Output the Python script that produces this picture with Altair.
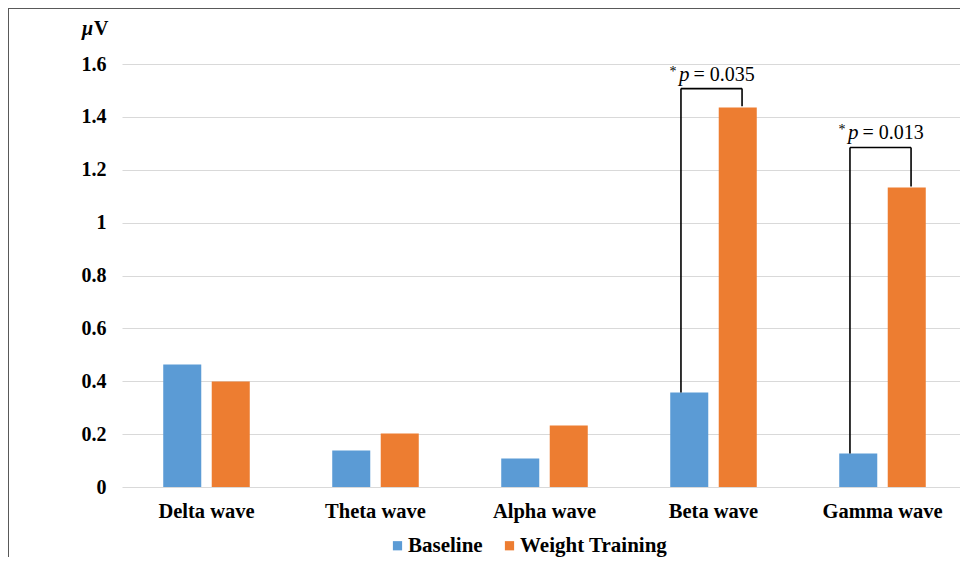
import altair as alt
import pandas as pd

categories = ["Delta wave", "Theta wave", "Alpha wave", "Beta wave", "Gamma wave"]
series = ["Baseline", "Weight Training"]
baseline = [0.463, 0.138, 0.108, 0.357, 0.127]
weight_training = [0.399, 0.202, 0.233, 1.435, 1.133]
y_ticks = [0, 0.2, 0.4, 0.6, 0.8, 1.0, 1.2, 1.4, 1.6]

sig_categories = ["Beta wave", "Gamma wave"]
sig_text = ["= 0.035", "= 0.013"]
bracket_top = [1.507, 1.284]
bracket_left_end = [0.357, 0.127]
bracket_right_end = [1.44, 1.137]
label_y = [1.534, 1.318]

rows = []
for c, b, w in zip(categories, baseline, weight_training):
    rows.append({"category": c, "series": "Baseline", "value": b})
    rows.append({"category": c, "series": "Weight Training", "value": w})
bars_df = pd.DataFrame(rows)

sig_df = pd.DataFrame({
    "category": sig_categories,
    "text": sig_text,
    "top": bracket_top,
    "left_end": bracket_left_end,
    "right_end": bracket_right_end,
    "label_y": label_y,
})

FONT = "Liberation Serif"
W, H = 838, 423
X_RANGE = 845  # category bands continue slightly past the visible frame, as in the original
PAD = {"left": 114, "top": 56, "right": 0, "bottom": 70}

x_scale = alt.Scale(domain=categories, range=[0, X_RANGE], paddingInner=0.488, paddingOuter=0.244)
y_scale = alt.Scale(domain=[0, 1.6], nice=False, zero=True)

bars = alt.Chart(bars_df).mark_bar().encode(
    x=alt.X("category:N", sort=categories, scale=x_scale, title=None,
            axis=alt.Axis(labelAngle=0, labelFont=FONT, labelFontWeight="bold",
                          labelFontSize=20.5, labelColor="#000000", labelPadding=14,
                          domain=False, ticks=False, grid=False)),
    xOffset=alt.XOffset("series:N", sort=series, scale=alt.Scale(domain=series, paddingInner=0.216)),
    y=alt.Y("value:Q", scale=y_scale, title="Amplitudes",
            axis=alt.Axis(values=y_ticks, format="~g", labelFont=FONT, labelFontWeight="bold",
                          labelFontSize=20, labelColor="#000000", labelPadding=16,
                          domain=False, ticks=False, grid=True, gridColor="#d9d9d9", gridWidth=1,
                          titleFont=FONT, titleFontWeight="bold", titleFontSize=23,
                          titleColor="#000000", titleAngle=270, titleX=-93, titleY=206,
                          titleAlign="center", titleBaseline="middle")),
    color=alt.Color("series:N", sort=series,
                    scale=alt.Scale(domain=series, range=["#5B9BD5", "#ED7D31"]),
                    legend=alt.Legend(title=None, orient="none", direction="horizontal",
                                      legendX=265, legendY=471, symbolType="square",
                                      symbolSize=85, symbolStrokeWidth=0, labelFont=FONT,
                                      labelFontWeight="bold", labelFontSize=21,
                                      labelColor="#000000", labelOffset=0, columnPadding=16)),
)

base_sig = alt.Chart(sig_df)
lp, rp = 0.124, 0.83

left_v = base_sig.mark_rule(color="#000000", strokeWidth=1.6).encode(
    x=alt.X("category:N", sort=categories, bandPosition=lp, title=None),
    y=alt.Y("left_end:Q", title=None),
    y2="top:Q",
)
horiz = base_sig.mark_rule(color="#000000", strokeWidth=1.6).encode(
    x=alt.X("category:N", sort=categories, bandPosition=lp, title=None),
    x2=alt.X2("category:N", bandPosition=rp),
    y=alt.Y("top:Q", title=None),
)
right_v = base_sig.mark_rule(color="#000000", strokeWidth=1.6).encode(
    x=alt.X("category:N", sort=categories, bandPosition=rp, title=None),
    y=alt.Y("right_end:Q", title=None),
    y2="top:Q",
)

txt_eq = base_sig.mark_text(align="left", baseline="alphabetic", dx=-20, font=FONT,
                            fontSize=20, color="#000000").encode(
    x=alt.X("category:N", sort=categories, title=None),
    y=alt.Y("label_y:Q", title=None),
    text="text:N",
)
txt_p = base_sig.mark_text(align="right", baseline="alphabetic", dx=-24, font=FONT,
                           fontSize=21, fontStyle="italic", color="#000000", text="p").encode(
    x=alt.X("category:N", sort=categories, title=None),
    y=alt.Y("label_y:Q", title=None),
)
txt_star = base_sig.mark_text(align="right", baseline="alphabetic", dx=-37, dy=-5, font=FONT,
                              fontSize=14, color="#000000", text="*").encode(
    x=alt.X("category:N", sort=categories, title=None),
    y=alt.Y("label_y:Q", title=None),
)

one = pd.DataFrame({"k": [0]})
mu = alt.Chart(one).mark_text(align="left", baseline="alphabetic", font=FONT, fontSize=20,
                              fontStyle="italic", fontWeight="bold", color="#000000",
                              text="\u03bc").encode(x=alt.value(-40), y=alt.value(-29))
volt = alt.Chart(one).mark_text(align="left", baseline="alphabetic", font=FONT, fontSize=20,
                                fontWeight="bold", color="#000000",
                                text="V").encode(x=alt.value(-28), y=alt.value(-29))

border_left = alt.Chart(one).mark_rule(color="#595959", strokeWidth=1).encode(
    x=alt.value(-113.5), y=alt.value(-56), y2=alt.value(H + PAD["bottom"]))
border_top = alt.Chart(one).mark_rule(color="#595959", strokeWidth=1).encode(
    x=alt.value(-114), x2=alt.value(W), y=alt.value(-55.5))

chart = alt.layer(
    bars, left_v, horiz, right_v, txt_eq, txt_p, txt_star, mu, volt, border_left, border_top
).properties(
    width=W, height=H, padding=PAD, autosize=alt.AutoSizeParams(type="none"),
    background="#ffffff",
).configure_view(stroke=None)

chart.save("out.html", embed_options={"renderer": "svg", "actions": False})
